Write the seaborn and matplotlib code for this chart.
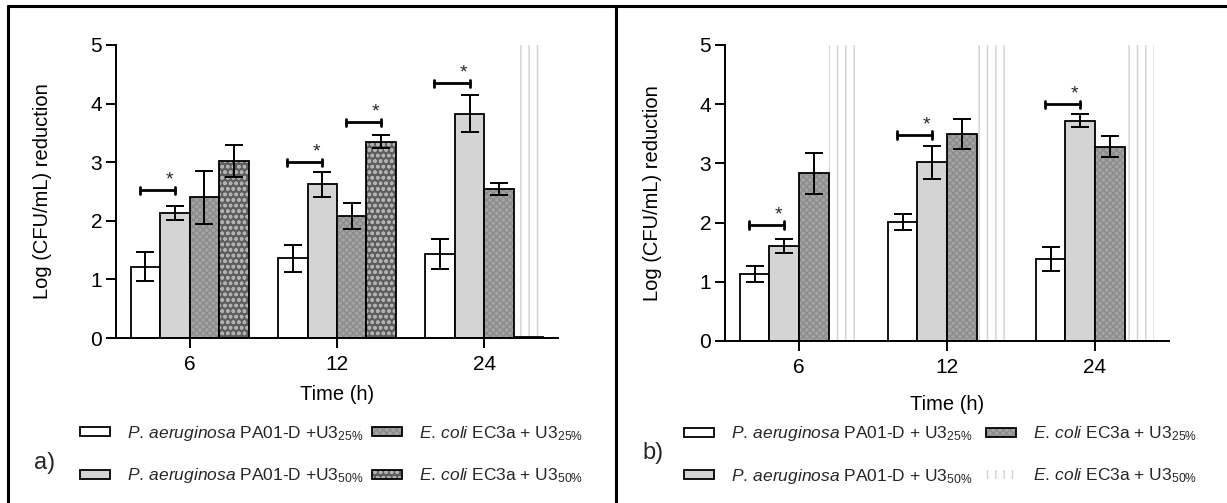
import numpy as np
import pandas as pd
import matplotlib
matplotlib.use("Agg")
import matplotlib.pyplot as plt
import matplotlib.colors as mcolors
from matplotlib.patches import Patch, Rectangle
from matplotlib.lines import Line2D
import seaborn as sns

# ---------------- data ----------------
times = ["6", "12", "24"]
series = ["PA25", "PA50", "EC25", "EC50"]

# panel a
a_pa25 = [1.22, 1.36, 1.43]
a_pa25_err = [0.24, 0.23, 0.26]
a_pa50 = [2.14, 2.62, 3.83]
a_pa50_err = [0.12, 0.21, 0.31]
a_ec25 = [2.40, 2.08, 2.54]
a_ec25_err = [0.45, 0.22, 0.10]
a_ec50 = [3.02, 3.35, 0.02]
a_ec50_err = [0.28, 0.11, 0.0]

# panel b
b_pa25 = [1.13, 2.01, 1.39]
b_pa25_err = [0.13, 0.14, 0.20]
b_pa50 = [1.61, 3.02, 3.72]
b_pa50_err = [0.12, 0.28, 0.11]
b_ec25 = [2.83, 3.50, 3.28]
b_ec25_err = [0.34, 0.25, 0.18]
b_ec50 = [0.0, 0.0, 0.0]
b_ec50_err = [0.0, 0.0, 0.0]

# significance brackets: (time index, series i, series j, height)
a_sig = [(0, 0, 1, 2.52), (1, 0, 1, 3.00), (1, 2, 3, 3.68), (2, 0, 1, 4.35)]
b_sig = [(0, 0, 1, 1.96), (1, 0, 1, 3.48), (2, 0, 1, 4.00)]

labels_a = [r"$\mathit{P.\,aeruginosa}$ PA01-D +U3$_{\mathrm{25\%}}$",
            r"$\mathit{P.\,aeruginosa}$ PA01-D +U3$_{\mathrm{50\%}}$",
            r"$\mathit{E.\,coli}$ EC3a + U3$_{\mathrm{25\%}}$",
            r"$\mathit{E.\,coli}$ EC3a + U3$_{\mathrm{50\%}}$"]
labels_b = [r"$\mathit{P.\,aeruginosa}$ PA01-D + U3$_{\mathrm{25\%}}$",
            r"$\mathit{P.\,aeruginosa}$ PA01-D + U3$_{\mathrm{50\%}}$",
            r"$\mathit{E.\,coli}$ EC3a + U3$_{\mathrm{25\%}}$",
            r"$\mathit{E.\,coli}$ EC3a + U3$_{\mathrm{50\%}}$"]

# ---------------- style ----------------
sns.set_style("ticks")
FONT = ["Liberation Sans", "DejaVu Sans"]
plt.rcParams["font.family"] = FONT
plt.rcParams["mathtext.fontset"] = "custom"
plt.rcParams["mathtext.rm"] = "Liberation Sans"
plt.rcParams["mathtext.it"] = "Liberation Sans:italic"
plt.rcParams["mathtext.sf"] = "Liberation Sans"
plt.rcParams["hatch.linewidth"] = 1.0

W, H = 1227, 503
fig = plt.figure(figsize=(W / 100, H / 100), dpi=100)

face = {"PA25": "#ffffff", "PA50": "#d4d4d4", "EC25": "#a4a4a4", "EC50": "#5e5e5e"}
hatch = {"PA25": None, "PA50": None, "EC25": "xxxxx", "EC50": "ooo"}
hcol = {"EC25": "#8c8c8c", "EC50": "#b2b2b2"}
LINES = "#d0d0d0"


def set_hc(p, c):
    if hasattr(p, "set_hatchcolor"):
        p.set_hatchcolor(c)
    else:
        p._hatch_color = mcolors.to_rgba(c)


def fx(x):
    return x / W


def fy(y):
    return 1 - y / H


def panel(rect, vals, errs, sig, xlab_y, ylab_x):
    ax = fig.add_axes(rect)
    rows = []
    for s, v in zip(series, vals):
        for t, val in zip(times, v):
            rows.append({"time": t, "series": s, "value": val})
    df = pd.DataFrame(rows)
    sns.barplot(data=df, x="time", y="value", hue="series", order=times,
                hue_order=series, palette=face, errorbar=None, width=0.8,
                edgecolor="black", linewidth=1.3, saturation=1, legend=False,
                ax=ax)
    ax.set_ylim(0, 5)
    ax.set_xlim(-0.5, 2.5)
    top = ax.get_ylim()[1]
    centers = []
    for s, cont, v, e in zip(series, ax.containers, vals, errs):
        xs = []
        for p in cont.patches:
            xs.append(p.get_x() + p.get_width() / 2)
            if hatch[s] is not None:
                p.set_hatch(hatch[s])
                set_hc(p, hcol[s])
            if p.get_height() < 0.05:
                ax.add_patch(Rectangle((p.get_x(), 0), p.get_width(), top,
                                       fill=False, hatch="||", edgecolor=LINES,
                                       linewidth=0, zorder=0.5))
        centers.append(xs)
        xs = np.array(xs)
        v = np.array(v)
        e = np.array(e)
        m = e > 0
        ax.errorbar(xs[m], v[m], yerr=e[m], fmt="none", ecolor="black",
                    elinewidth=1.4, capsize=6.5, capthick=1.4, zorder=5)
    bw = ax.containers[0].patches[0].get_width()
    for ti, i, j, h in sig:
        x1 = centers[i][ti] - 0.2 * bw
        x2 = centers[j][ti]
        d = 0.06
        ax.plot([x1, x2], [h, h], color="black", lw=2, zorder=6)
        ax.plot([x1, x1], [h - d, h + d], color="black", lw=2, zorder=6)
        ax.plot([x2, x2], [h - d, h + d], color="black", lw=2, zorder=6)
        ax.text(x2 - 0.2 * bw, h + 0.03, "*", ha="center", va="bottom",
                fontsize=14, zorder=6)
    sns.despine(ax=ax)
    for sp in ["left", "bottom"]:
        ax.spines[sp].set_linewidth(1.4)
        ax.spines[sp].set_color("black")
    ax.set_yticks([0, 1, 2, 3, 4, 5])
    ax.tick_params(axis="both", direction="out", length=7, width=1.4,
                   color="black", labelsize=15, labelcolor="black")
    ax.tick_params(axis="y", pad=3)
    ax.tick_params(axis="x", pad=5)
    ax.set_xlabel("Time (h)", fontsize=14.5, color="black")
    ax.set_ylabel("Log (CFU/mL) reduction", fontsize=14.5, color="black")
    ax.xaxis.set_label_coords(0.5, xlab_y)
    ax.xaxis.label.set_va("center")
    ax.yaxis.set_label_coords(ylab_x, 0.5)
    ax.yaxis.label.set_va("center")
    return ax


# axes geometry (pixels)
ax_a = panel([fx(116), fy(338), fx(558) - fx(116), fy(45) - fy(338)],
             [a_pa25, a_pa50, a_ec25, a_ec50],
             [a_pa25_err, a_pa50_err, a_ec25_err, a_ec50_err], a_sig,
             (338 - 395) / (338 - 45), (43 - 116) / (558 - 116))
ax_b = panel([fx(725), fy(341), fx(1169) - fx(725), fy(45) - fy(341)],
             [b_pa25, b_pa50, b_ec25, b_ec50],
             [b_pa25_err, b_pa50_err, b_ec25_err, b_ec50_err], b_sig,
             (341 - 405) / (341 - 45), (653 - 725) / (1169 - 725))


# ---------------- legends ----------------
def handle(s, lines=False):
    if lines:
        h = Patch(facecolor="none", edgecolor=LINES, linewidth=0, hatch="||")
        return h
    h = Patch(facecolor=face[s], edgecolor="black", linewidth=1.3,
              hatch=hatch[s])
    if hatch[s] is not None:
        set_hc(h, hcol[s])
    return h


def add_legend(handles, labels, x, y):
    leg = fig.legend(handles, labels, loc="center left",
                     bbox_to_anchor=(fx(x), fy(y)), frameon=False,
                     borderpad=0, borderaxespad=0, handlelength=1.75,
                     handleheight=0.42, handletextpad=0.95, labelspacing=1.35,
                     fontsize=12.5)
    return leg


add_legend([handle("PA25"), handle("PA50")], labels_a[:2], 80, 454.5)
add_legend([handle("EC25"), handle("EC50")], labels_a[2:], 372, 454.5)
add_legend([handle("PA25"), handle("PA50")], labels_b[:2], 684, 455)
add_legend([handle("EC25"), handle("EC50", lines=True)], labels_b[2:], 986, 455)

fig.text(fx(45), fy(463), "a)", ha="center", va="center", fontsize=17)
fig.text(fx(653), fy(453), "b)", ha="center", va="center", fontsize=17)

# panel frames
for xs, ys in [([fx(8), 1.0], [fy(6), fy(6)]),
               ([fx(8), fx(8)], [0, fy(6)]),
               ([fx(616), fx(616)], [0, fy(6)])]:
    fig.add_artist(Line2D(xs, ys, transform=fig.transFigure, color="black",
                          lw=2.2))

fig.savefig("out.png", dpi=100)
